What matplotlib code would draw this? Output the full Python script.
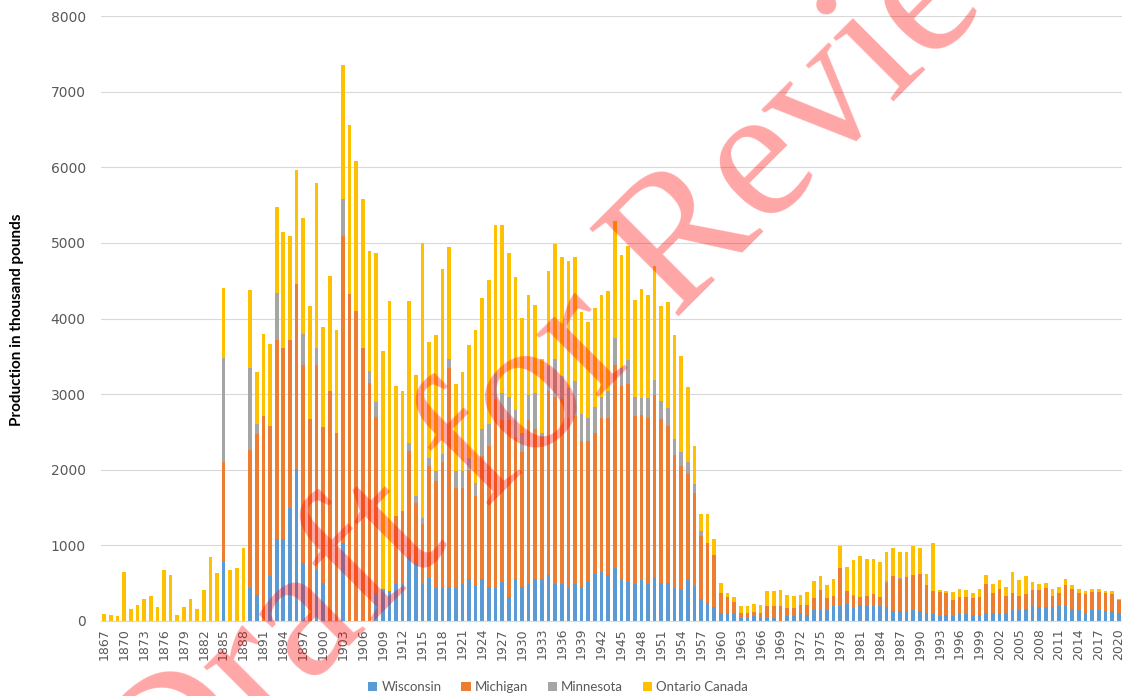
import numpy as np
import matplotlib
matplotlib.use("Agg")
import matplotlib.pyplot as plt
from matplotlib.patches import Patch

years = list(range(1867, 2021))

# Wisconsin (thousand pounds)
wisconsin = [
    0, 0, 0,                                            # 1867-1869
    0, 0, 0, 0, 0, 0, 0, 0, 0, 0,                       # 1870s
    0, 0, 0, 0, 0, 780, 0, 0, 0, 430,                   # 1880s
    350, 0, 595, 1085, 1085, 1490, 2005, 770, 0, 680,   # 1890s
    500, 0, 0, 1030, 0, 0, 0, 0, 375, 420,              # 1900s
    400, 485, 485, 840, 750, 485, 570, 430, 430, 455,   # 1910s
    440, 485, 550, 470, 550, 455, 430, 510, 320, 550,   # 1920s
    455, 495, 550, 550, 605, 495, 495, 430, 495, 455,   # 1930s
    510, 625, 650, 605, 695, 550, 510, 495, 540, 495,   # 1940s
    585, 505, 505, 440, 425, 540, 460, 285, 240, 190,   # 1950s
    110, 100, 110, 45, 45, 65, 45, 35, 35, 0,           # 1960s
    60, 60, 110, 85, 148, 148, 148, 194, 194, 230,      # 1970s
    171, 216, 203, 194, 194, 180, 126, 126, 126, 148,   # 1980s
    126, 112, 95, 68, 81, 68, 95, 95, 81, 81,           # 1990s
    104, 112, 112, 112, 140, 148, 158, 194, 185, 185,   # 2000s
    185, 194, 194, 158, 148, 112, 140, 140, 126, 126,   # 2010s
    104,                                                # 2020
]

# Michigan
michigan = [
    0, 0, 0,
    0, 0, 0, 0, 0, 0, 0, 0, 0, 0,
    0, 0, 0, 0, 0, 1320, 0, 0, 0, 1835,
    2120, 2710, 1990, 2630, 2530, 2225, 2445, 2620, 2665, 2700,
    2070, 3045, 2480, 4065, 4325, 4105, 3615, 3150, 2320, 0,
    0, 905, 970, 1410, 815, 795, 1475, 1420, 1670, 2895,
    1325, 1280, 1450, 1185, 1630, 1855, 2505, 2145, 2335, 1885,
    1785, 2160, 1995, 1885, 2440, 2465, 2440, 2255, 2215, 1920,
    1865, 1865, 2035, 2080, 2685, 2560, 2620, 2215, 2180, 2190,
    2405, 2160, 2080, 1750, 1625, 1400, 1235, 840, 795, 680,
    265, 220, 140, 55, 55, 55, 65, 160, 160, 195,
    115, 115, 100, 125, 158, 262, 158, 135, 509, 166,
    158, 104, 126, 157, 126, 329, 464, 428, 451, 460,
    496, 361, 301, 315, 284, 207, 225, 225, 221, 239,
    382, 262, 316, 217, 234, 181, 193, 216, 225, 256,
    144, 180, 279, 270, 226, 248, 243, 243, 239, 225,
    171,
]

# Minnesota
minnesota = [
    0, 0, 0,
    0, 0, 0, 0, 0, 0, 0, 0, 0, 0,
    0, 0, 0, 0, 0, 1375, 0, 0, 0, 1085,
    130, 0, 0, 625, 0, 0, 0, 400, 0, 235,
    0, 0, 0, 485, 0, 0, 0, 160, 195, 0,
    0, 0, 0, 110, 85, 85, 110, 140, 110, 115,
    225, 225, 150, 165, 365, 290, 335, 365, 305, 360,
    250, 335, 475, 55, 325, 505, 305, 390, 460, 365,
    310, 345, 275, 360, 360, 240, 315, 250, 225, 260,
    195, 240, 235, 220, 190, 160, 110, 65, 0, 0,
    0, 0, 0, 0, 0, 0, 0, 0, 0, 0,
    0, 0, 0, 0, 0, 0, 0, 0, 0, 0,
    20, 0, 0, 0, 0, 25, 0, 20, 0, 0,
    0, 0, 0, 0, 0, 0, 0, 0, 0, 0,
    0, 0, 0, 0, 0, 0, 0, 0, 0, 0,
    0, 0, 0, 0, 0, 0, 0, 0, 0, 0,
    0,
]

# Ontario Canada
ontario = [
    95, 85, 60,
    650, 165, 205, 295, 330, 190, 670, 605, 85, 185,
    295, 165, 405, 845, 640, 925, 675, 705, 960, 1030,
    695, 1090, 1075, 1140, 1530, 1375, 1520, 1540, 1495, 2175,
    1320, 1515, 1370, 1770, 2240, 1975, 1965, 1585, 1980, 3155,
    3825, 1720, 1590, 1870, 1600, 3630, 1530, 1795, 2440, 1475,
    1140, 1305, 1495, 2030, 1725, 1915, 1965, 2215, 1910, 1755,
    1520, 1325, 1165, 975, 1255, 1520, 1575, 1685, 1645, 1345,
    1265, 1305, 1355, 1325, 1550, 1495, 1520, 1280, 1450, 1370,
    1505, 1265, 1400, 1370, 1270, 995, 515, 230, 385, 220,
    125, 45, 65, 100, 100, 100, 105, 200, 200, 215,
    165, 150, 130, 180, 219, 180, 167, 225, 288, 316,
    462, 540, 495, 473, 459, 380, 369, 340, 337, 383,
    346, 149, 631, 27, 27, 112, 108, 90, 72, 108,
    122, 112, 117, 126, 279, 216, 239, 112, 76, 68,
    99, 81, 81, 49, 54, 32, 45, 45, 27, 41,
    18,
]

series_names = ["Wisconsin", "Michigan", "Minnesota", "Ontario Canada"]
series_colors = ["#5B9BD5", "#ED7D31", "#A5A5A5", "#FFC000"]
yticks = list(range(0, 8001, 1000))

W, H = 1122, 696
fig = plt.figure(figsize=(W / 100, H / 100), dpi=100)
ax = fig.add_axes([101 / W, 75 / H, 1021 / W, 605 / H])

x = np.arange(len(years))
bottom = np.zeros(len(years))
for vals, col in zip([wisconsin, michigan, minnesota, ontario], series_colors):
    v = np.array(vals, dtype=float)
    ax.bar(x, v, width=0.55, bottom=bottom, color=col, linewidth=0, zorder=2)
    bottom += v

ax.set_xlim(-0.5, len(years) - 0.5)
ax.set_ylim(0, 8000)
ax.set_yticks(yticks)
ax.set_yticklabels([str(t) for t in yticks], fontsize=10, color="#595959")
ax.set_xticks(x[::3])
ax.set_xticklabels([str(y) for y in years[::3]], rotation=90, fontsize=9,
                   color="#595959")
ax.tick_params(axis="y", length=0, pad=11)
ax.tick_params(axis="x", length=0, pad=5)
ax.yaxis.grid(True, color="#D9D9D9", linewidth=0.8, zorder=0)
ax.set_axisbelow(True)
for s in ["left", "right", "top"]:
    ax.spines[s].set_visible(False)
ax.spines["bottom"].set_color("#D9D9D9")

fig.text(17 / W, 1 - 320 / H, "Production in thousand pounds", rotation=90,
         ha="center", va="center", fontsize=11, fontweight="bold",
         family="Lato", color="black")

handles = [Patch(facecolor=c, edgecolor="none", label=n)
           for n, c in zip(series_names, series_colors)]
fig.legend(handles=handles, loc="center", bbox_to_anchor=(558 / W, 1 - 687 / H),
           ncol=4, frameon=False, handlelength=0.7, handleheight=0.7,
           handletextpad=0.3, columnspacing=1.5,
           prop={"family": "Lato", "size": 9.5}, labelcolor="#595959")

fig.text(626 / W, 1 - 369 / H, "Draft for Review", fontsize=137,
         family="Liberation Serif", color="red", alpha=0.35, rotation=45,
         ha="center", va="baseline", rotation_mode="anchor", zorder=100)

fig.savefig("out.png", dpi=100)
